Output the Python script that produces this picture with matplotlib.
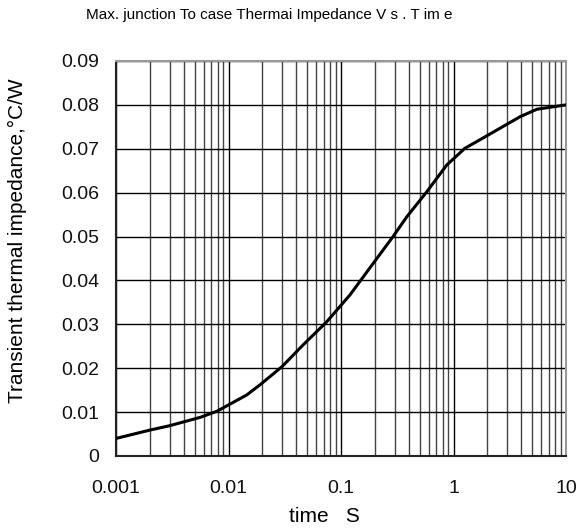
import numpy as np
import matplotlib.pyplot as plt
from matplotlib.ticker import FixedLocator, LogLocator, NullFormatter

# curve (time in s, impedance in C/W)
time_s = [0.001, 0.002, 0.003, 0.0056, 0.0079, 0.0145, 0.019, 0.0297, 0.046,
          0.0747, 0.12, 0.175, 0.29, 0.384, 0.578, 0.87, 1.26, 1.9, 3.9, 5.5, 10]
zth = [0.0040, 0.0059, 0.0069, 0.0088, 0.0102, 0.0139, 0.0162, 0.0203, 0.0253,
       0.0306, 0.0367, 0.0424, 0.0500, 0.0545, 0.0602, 0.0663, 0.0701, 0.0727,
       0.0773, 0.0790, 0.0800]

x_ticks = [0.001, 0.01, 0.1, 1, 10]
x_labels = ['0.001', '0.01', '0.1', '1', '10']
y_ticks = [0, 0.01, 0.02, 0.03, 0.04, 0.05, 0.06, 0.07, 0.08, 0.09]
y_labels = ['0', '0.01', '0.02', '0.03', '0.04', '0.05', '0.06', '0.07', '0.08', '0.09']

plt.rcParams['font.family'] = ['Liberation Sans', 'DejaVu Sans']

fig = plt.figure(figsize=(5.86, 5.28), dpi=100)
ax = fig.add_axes([0.198, 0.1364, 0.768, 0.7481])

ax.plot(time_s, zth, color='black', lw=2.2, zorder=5)

ax.set_xscale('log')
ax.set_xlim(0.001, 10)
ax.set_ylim(0, 0.09)

ax.xaxis.set_major_locator(FixedLocator(x_ticks))
ax.set_xticklabels(x_labels)
ax.xaxis.set_minor_locator(LogLocator(base=10, subs=np.arange(2, 10)))
ax.xaxis.set_minor_formatter(NullFormatter())
ax.set_yticks(y_ticks)
ax.set_yticklabels(y_labels)

ax.grid(which='major', color='black', lw=1.0)
ax.grid(which='minor', axis='x', color='#444444', lw=1.0)
ax.tick_params(which='both', length=0, labelsize=14, labelcolor='#111111')
ax.tick_params(axis='x', pad=17)
ax.tick_params(axis='y', pad=12)

for side in ['left', 'bottom']:
    ax.spines[side].set_color('#222222')
    ax.spines[side].set_linewidth(1.5)
for side in ['top', 'right']:
    ax.spines[side].set_color('#999999')
    ax.spines[side].set_linewidth(1.5)

ax.set_xlabel('time   S', fontsize=15)
ax.set_ylabel('Transient thermal impedance,°C/W', fontsize=15)
ax.xaxis.set_label_coords((324 - 116) / 450, -(507 - 456) / 395)
ax.yaxis.set_label_coords(-(116 - 27) / 450, (456 - 241) / 395)

fig.text(269 / 586, 1 - 15 / 528, 'Max. junction To case Thermai Impedance V s . T im e',
         ha='center', va='center', fontsize=11,
         family=['Liberation Sans Narrow', 'Liberation Sans', 'DejaVu Sans'])

fig.savefig('out.png', dpi=100, facecolor='white')
